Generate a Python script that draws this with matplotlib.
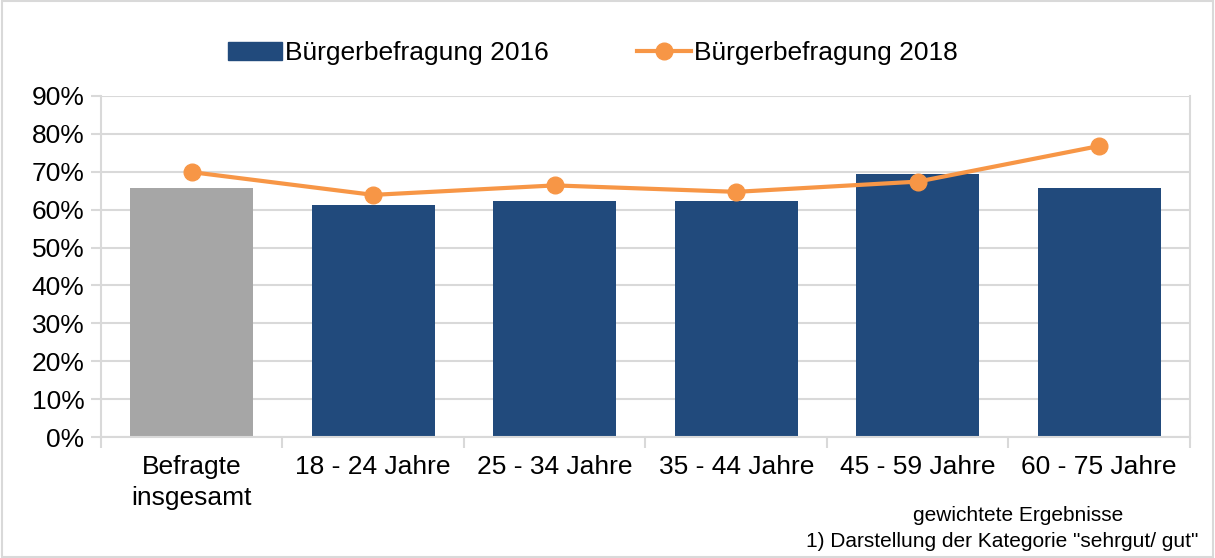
import matplotlib
matplotlib.use('Agg')
import matplotlib.pyplot as plt
from matplotlib.patches import Rectangle
import numpy as np

plt.rcParams['font.family'] = ['Liberation Sans', 'DejaVu Sans']

categories = ['Befragte\ninsgesamt', '18 - 24 Jahre', '25 - 34 Jahre',
              '35 - 44 Jahre', '45 - 59 Jahre', '60 - 75 Jahre']
survey_2016 = [65.6, 61.3, 62.4, 62.3, 69.3, 65.6]
survey_2018 = [69.9, 63.9, 66.4, 64.7, 67.4, 76.8]
y_ticks = [0, 10, 20, 30, 40, 50, 60, 70, 80, 90]

BLUE = '#214A7C'
GREY_BAR = '#A6A6A6'
ORANGE = '#F79646'
GRID = '#D9D9D9'

fig = plt.figure(figsize=(12.15, 5.58), dpi=100)
fig.patches.append(Rectangle((0.002, 0.002), 0.996, 0.996, transform=fig.transFigure,
                             fill=False, edgecolor=GRID, linewidth=1.5))

ax = fig.add_axes([0.0831, 0.2168, 0.8963, 0.6112])
x = np.arange(len(categories))
colors = [GREY_BAR] + [BLUE] * (len(categories) - 1)
ax.bar(x, survey_2016, width=0.68, color=colors, zorder=2)
ax.plot(x, survey_2018, color=ORANGE, linewidth=3, marker='o', markersize=12,
        zorder=3)

ax.set_xlim(-0.5, len(categories) - 0.5)
ax.set_ylim(0, 90)
ax.set_yticks(y_ticks)
ax.set_yticklabels([f'{v}%' for v in y_ticks])
ax.yaxis.grid(True, color=GRID, linewidth=1.5, zorder=0)
ax.set_axisbelow(True)

ax.set_xticks(x)
ax.set_xticklabels(categories, linespacing=1.35)
ax.set_xticks(np.arange(-0.5, len(categories)), minor=True)
ax.tick_params(axis='x', which='major', length=0, pad=13, labelsize=19)
ax.tick_params(axis='x', which='minor', length=8, width=1.5, color=GRID)
ax.tick_params(axis='y', length=7, width=1.5, color=GRID, labelsize=19, pad=5)

for side in ['left', 'bottom', 'right']:
    ax.spines[side].set_color(GRID)
    ax.spines[side].set_linewidth(1.5)
ax.spines['top'].set_visible(False)

# legend
handles = [Rectangle((0, 0), 1, 1, color=BLUE),
           plt.Line2D([], [], color=ORANGE, linewidth=3, marker='o', markersize=12)]
fig.legend(handles, ['Bürgerbefragung 2016', 'Bürgerbefragung 2018'],
           loc='center', bbox_to_anchor=(0.488, 0.905), ncol=2, frameon=False,
           fontsize=19, handlelength=2.05, handletextpad=0.12, columnspacing=3.35)

fig.text(0.838, 0.067, 'gewichtete Ergebnisse', ha='center', fontsize=15)
fig.text(0.986, 0.02, '1) Darstellung der Kategorie "sehrgut/ gut"', ha='right',
         fontsize=15)

fig.savefig('out.png', dpi=100)
